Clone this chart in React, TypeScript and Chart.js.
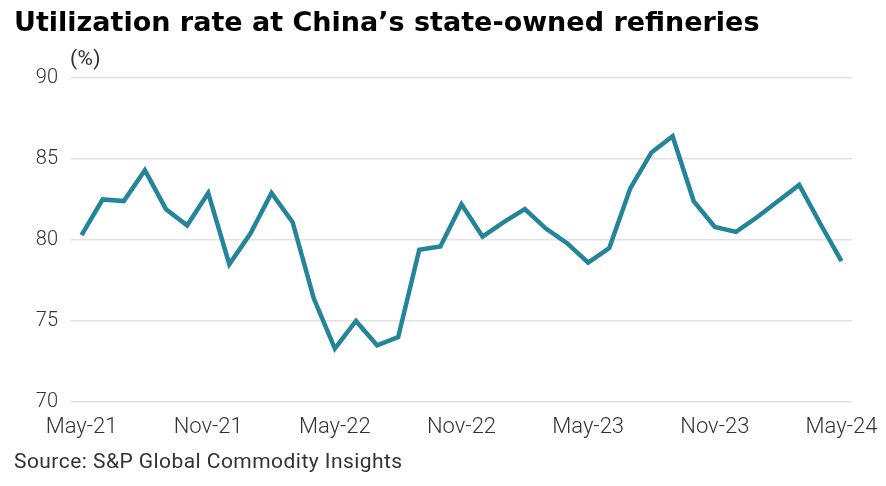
import { useEffect, useRef } from 'react';
import { Chart, registerables } from 'chart.js';

Chart.register(...registerables);

const TITLE = 'Utilization rate at China\u2019s state-owned refineries';
const UNIT = '(%)';
const SOURCE = 'Source: S&P Global Commodity Insights';

const months = [
  'May-21', 'Jun-21', 'Jul-21', 'Aug-21', 'Sep-21', 'Oct-21', 'Nov-21', 'Dec-21',
  'Jan-22', 'Feb-22', 'Mar-22', 'Apr-22', 'May-22', 'Jun-22', 'Jul-22', 'Aug-22',
  'Sep-22', 'Oct-22', 'Nov-22', 'Dec-22', 'Jan-23', 'Feb-23', 'Mar-23', 'Apr-23',
  'May-23', 'Jun-23', 'Jul-23', 'Aug-23', 'Sep-23', 'Oct-23', 'Nov-23', 'Dec-23',
  'Jan-24', 'Feb-24', 'Mar-24', 'Apr-24', 'May-24',
];

const utilization = [
  80.3, 82.5, 82.4, 84.3, 81.9, 80.9, 82.9, 78.5, 80.4, 82.9, 81.1, 76.4,
  73.3, 75.0, 73.5, 74.0, 79.4, 79.6, 82.2, 80.2, 81.1, 81.9, 80.7, 79.8,
  78.6, 79.5, 83.2, 85.4, 86.4, 82.4, 80.8, 80.5, 81.4, 82.4, 83.4, 81.0, 78.7,
];

const yMin = 70;
const yMax = 90;
const yStep = 5;
const labelEvery = 6;

const FONT = 'Roboto, "Liberation Sans", sans-serif';
const TITLE_FONT = '"DejaVu Sans", Roboto, sans-serif';
const LINE_COLOR = '#23849a';
const TEXT_COLOR = '#333333';

export default function App() {
  const ref = useRef<HTMLCanvasElement | null>(null);

  useEffect(() => {
    if (!ref.current) return;
    const notes = {
      id: 'notes',
      afterDraw(chart: any) {
        const ctx = chart.ctx;
        const area = chart.chartArea;
        ctx.save();
        ctx.fillStyle = TEXT_COLOR;
        ctx.textAlign = 'left';
        ctx.textBaseline = 'middle';
        ctx.font = `400 21px ${FONT}`;
        (ctx as any).letterSpacing = '0.3px';
        ctx.fillText(UNIT, area.left - 1, area.top - 18);
        (ctx as any).letterSpacing = '0.45px';
        ctx.fillText(SOURCE, 14, 463);
        ctx.restore();
      },
    };

    const chart = new Chart(ref.current, {
      type: 'line',
      data: {
        labels: months,
        datasets: [
          {
            data: utilization,
            borderColor: LINE_COLOR,
            backgroundColor: LINE_COLOR,
            borderWidth: 4.5,
            pointRadius: 0,
            tension: 0,
            fill: false,
            borderJoinStyle: 'miter',
          },
        ],
      },
      options: {
        responsive: false,
        animation: false,
        layout: { padding: { left: 14, right: 34, top: 0, bottom: 44 } },
        plugins: {
          legend: { display: false },
          tooltip: { enabled: false },
          title: {
            display: true,
            text: TITLE,
            align: 'start',
            color: '#000000',
            font: { family: TITLE_FONT, size: 27, weight: 'bold' },
            padding: { top: 8, bottom: 37.5 },
          },
        },
        scales: {
          x: {
            offset: true,
            grid: { display: false, drawTicks: false },
            border: { display: false },
            ticks: {
              autoSkip: false,
              maxRotation: 0,
              minRotation: 0,
              padding: 12,
              color: TEXT_COLOR,
              font: { family: FONT, size: 22, weight: '300' },
              callback: (_v: any, i: number) => (i % labelEvery === 0 ? months[i] : ''),
            },
            afterFit: (scale: any) => {
              scale.height = 40;
              scale.paddingLeft = 0;
              scale.paddingRight = 0;
            },
          },
          y: {
            min: yMin,
            max: yMax,
            grid: { color: '#e2e2e2', lineWidth: 1.5, drawTicks: false },
            border: { display: false },
            ticks: {
              stepSize: yStep,
              padding: 13,
              color: TEXT_COLOR,
              font: { family: FONT, size: 20, weight: '300' },
            },
            afterFit: (scale: any) => {
              scale.width = 57;
            },
          },
        },
      },
      plugins: [notes],
    });

    return () => chart.destroy();
  }, []);

  return (
    <div style={{ position: 'fixed', left: 0, top: 0, width: 886, height: 486, background: '#ffffff' }}>
      <canvas ref={ref} width={886} height={486} style={{ display: 'block' }} />
    </div>
  );
}
